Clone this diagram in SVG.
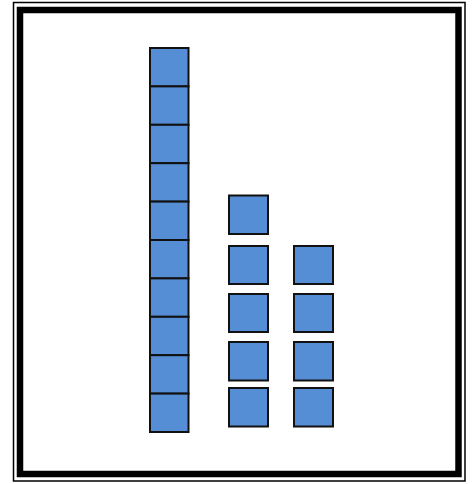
<svg xmlns="http://www.w3.org/2000/svg" width="473" height="484" viewBox="0 0 473 484">
<style>
.sq{fill:#558ED5;stroke:#111;stroke-width:2}
.frame{fill:none;stroke:#000}
</style>
<rect width="473" height="484" fill="#fff"/>
<g id="frame">
<rect class="frame" x="13.5" y="2.5" width="451.5" height="478.5" stroke-width="1.5"/>
<rect class="frame" x="20" y="10" width="438.5" height="464" stroke-width="6.5"/>
</g>
<g id="column1">
<rect class="sq" x="150" y="48" width="38.5" height="38.4"/>
<rect class="sq" x="150" y="86.4" width="38.5" height="38.4"/>
<rect class="sq" x="150" y="124.8" width="38.5" height="38.4"/>
<rect class="sq" x="150" y="163.2" width="38.5" height="38.4"/>
<rect class="sq" x="150" y="201.6" width="38.5" height="38.4"/>
<rect class="sq" x="150" y="240" width="38.5" height="38.4"/>
<rect class="sq" x="150" y="278.4" width="38.5" height="38.4"/>
<rect class="sq" x="150" y="316.8" width="38.5" height="38.4"/>
<rect class="sq" x="150" y="355.2" width="38.5" height="38.4"/>
<rect class="sq" x="150" y="393.6" width="38.5" height="38.4"/>
</g>
<g id="column2">
<rect class="sq" x="229" y="195.5" width="39" height="38.5"/>
<rect class="sq" x="229" y="246" width="39" height="38"/>
<rect class="sq" x="229" y="294" width="39" height="38"/>
<rect class="sq" x="229" y="342" width="39" height="38.5"/>
<rect class="sq" x="229" y="388" width="39" height="38.5"/>
</g>
<g id="column3">
<rect class="sq" x="294" y="246" width="39" height="38"/>
<rect class="sq" x="294" y="294" width="39" height="38"/>
<rect class="sq" x="294" y="342" width="39" height="38.5"/>
<rect class="sq" x="294" y="388" width="39" height="38.5"/>
</g>
<g id="connectors"/>
</svg>
